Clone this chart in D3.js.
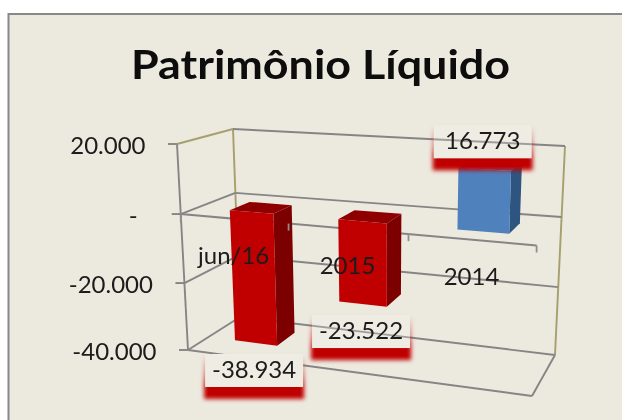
<!DOCTYPE html>
<html><head><meta charset="utf-8">
<script src="https://cdn.jsdelivr.net/npm/d3@7"></script>
<style>html,body{margin:0;padding:0;background:#fff;overflow:hidden}svg{display:block}</style>
</head><body><svg id="c" width="622" height="420"></svg>
<script>
const chartTitle = "Patrimônio Líquido";
const categories = ["jun/16", "2015", "2014"];
const seriesValues = [-38934, -23522, 16773];
const yTicks = [-40000, -20000, 0, 20000];

const BG = "#ece9df", GRID = "#858585", OLIVE = "#a5a06c", FONT = "Lato, 'Open Sans', sans-serif";
const fmt = d3.formatLocale({decimal:",",thousands:".",grouping:[3],currency:["",""]}).format(",d");
const label = v => v === 0 ? "-" : fmt(v).replace("−","-");

const svg = d3.select("#c");
const defs = svg.append("defs");
const soft = defs.append("filter").attr("id","soft").attr("x","-5%").attr("y","-5%").attr("width","110%").attr("height","110%");
soft.append("feGaussianBlur").attr("stdDeviation",0.45);
const glow = defs.append("filter").attr("id","glow").attr("x","-20%").attr("y","-30%").attr("width","140%").attr("height","160%");
glow.append("feGaussianBlur").attr("stdDeviation",2.3);
const grad = defs.append("linearGradient").attr("id","shade").attr("x1",0).attr("x2",0).attr("y1",0).attr("y2",1);
grad.append("stop").attr("offset",0).attr("stop-color","#c00000").attr("stop-opacity",0.05);
grad.append("stop").attr("offset",0.45).attr("stop-color","#c00000").attr("stop-opacity",0.55);
grad.append("stop").attr("offset",0.7).attr("stop-color","#c00000").attr("stop-opacity",1);
grad.append("stop").attr("offset",1).attr("stop-color","#c00000").attr("stop-opacity",1);

const root = svg.append("g").attr("filter","url(#soft)");
root.append("rect").attr("x",8.5).attr("y",14).attr("width",640).attr("height",430).attr("fill",BG).attr("stroke","#888").attr("stroke-width",2);
root.append("text").text(chartTitle).attr("x",320.5).attr("y",79).attr("text-anchor","middle")
  .attr("textLength",379).attr("lengthAdjust","spacingAndGlyphs")
  .attr("font-family",FONT).attr("font-weight",700).attr("font-size",41).attr("fill","#0a0a0a");

// 3D box frame: scales along the three chart directions
const vFrac = d3.scaleLinear().domain(yTicks).range([0,.325,.66,1]);
const uWarp = d3.scaleLinear().domain([0,1/3,2/3,1]).range([0,.303,.64,1]);
const frontLeftX = d3.scaleLinear().domain([0,1]).range([188,177]), frontLeftY = d3.scaleLinear().domain([0,1]).range([350,144]);
const frontRightX = d3.scaleLinear().domain([0,1]).range([532,539]), frontRightY = d3.scaleLinear().domain([0,1]).range([396,168]);
const backLeftX = d3.scaleLinear().domain([0,1]).range([240,233]), backLeftY = d3.scaleLinear().domain([0,1]).range([317,129]);
const backRightX = d3.scaleLinear().domain([0,1]).range([555,565]), backRightY = d3.scaleLinear().domain([0,1]).range([355,146]);
const catScale = d3.scaleBand().domain(categories).range([0,1]).paddingInner(.585).paddingOuter(.2925);
const catAxis = d3.scaleBand().domain(categories).range([0,1]);
const lerp = (a,b,t) => a+(b-a)*t;
function P(u,d,v){
  const f = vFrac(v);
  const fx = lerp(frontLeftX(f),frontRightX(f),u), fy = lerp(frontLeftY(f),frontRightY(f),u);
  const bx = lerp(backLeftX(f),backRightX(f),u), by = lerp(backLeftY(f),backRightY(f),u);
  return [lerp(fx,bx,d),lerp(fy,by,d)];
}
const seg = (g,a,b,c,w) => g.append("line").attr("x1",a[0]).attr("y1",a[1]).attr("x2",b[0]).attr("y2",b[1]).attr("stroke",c||GRID).attr("stroke-width",w||1.9);
const poly = (g,pts,c) => g.append("polygon").attr("points",pts.map(p=>p.join(",")).join(" ")).attr("fill",c);
const vMin = yTicks[0], vMax = yTicks[yTicks.length-1];

// walls
const wall = root.append("g");
seg(wall,P(0,1,vMin),P(0,1,vMax),OLIVE);
seg(wall,P(1,1,vMin),P(1,1,vMax),OLIVE);
seg(wall,P(0,0,vMin),P(0,0,vMax));
yTicks.forEach(t=>{
  const c = t===vMax ? OLIVE : GRID;
  seg(wall,P(0,0,t),P(0,1,t),c);
  seg(wall,P(0,1,t),P(1,1,t), GRID);
  seg(wall,P(0,0,t),[P(0,0,t)[0]-9,P(0,0,t)[1]]);
});
seg(wall,P(0,0,vMin),P(1,0,vMin));
seg(wall,P(1,0,vMin),P(1,1,vMin));
seg(wall,P(0,0,0),P(1,0,0),GRID,2);

// bars
const d0=.31, d1=.69, uShift=.004;
const bars = root.append("g");
const barU = c => [uWarp(catScale(c))+uShift, uWarp(catScale(c)+catScale.bandwidth())+uShift];
categories.forEach((c,i)=>{
  const v = seriesValues[i], [u0,u1]=barU(c);
  const hi=Math.max(v,0), lo=Math.min(v,0), neg=v<0;
  const cf=neg?"#c00000":"#4f81bd", cs=neg?"#7c0000":"#2f5480", ct=neg?"#8e0000":"#4f81bd";
  poly(bars,[P(u0,d0,hi),P(u1,d0,hi),P(u1,d1,hi),P(u0,d1,hi)],ct);
  poly(bars,[P(u1,d0,hi),P(u1,d1,hi),P(u1,d1,lo),P(u1,d0,lo)],cs);
  poly(bars,[P(u0,d0,hi),P(u1,d0,hi),P(u1,d0,lo),P(u0,d0,lo)],cf);
});
// axis ticks along the zero line
const axisG = root.append("g");
categories.forEach(c=>{
  const u = uWarp(catAxis(c)+catAxis.bandwidth());
  const p=P(u,0,0); seg(axisG,p,[p[0],p[1]+7],"#8f8f8f",1.8);
});
const pz=P(0,0,0); seg(axisG,pz,[pz[0],pz[1]+8],"#8f8f8f",1.8);

// data labels
const boxW=98, boxH=33, shadowH=12;
const labels = root.append("g");
const boxes = categories.map((c,i)=>{
  const v=seriesValues[i], [u0,u1]=barU(c), pMid=P((u0+u1)/2,d0,v), cx=pMid[0]-2;
  const top = v<0 ? pMid[1]+11 : pMid[1]-44;
  return {x:cx-boxW/2,y:top,cx,v};
});
const clip = defs.append("clipPath").attr("id","lab");
boxes.forEach(b=>clip.append("rect").attr("x",b.x).attr("y",b.y).attr("width",boxW).attr("height",boxH));
boxes.forEach(b=>{
  labels.append("rect").attr("x",b.x-1).attr("y",b.y+2).attr("width",boxW+2).attr("height",boxH+shadowH-2)
    .attr("fill","url(#shade)").attr("filter","url(#glow)");
  labels.append("rect").attr("x",b.x).attr("y",b.y).attr("width",boxW).attr("height",boxH).attr("fill","#efece4");
});
// back wall lines show through the label boxes
const thru = root.append("g").attr("clip-path","url(#lab)").attr("opacity",.75);
yTicks.forEach(t=>seg(thru,P(0,1,t),P(1,1,t)));
boxes.forEach(b=>{
  root.append("text").text(label(b.v)).attr("x",b.cx).attr("y",b.y+boxH/2+7.5).attr("text-anchor","middle")
    .attr("font-family",FONT).attr("font-size",24).attr("fill","#1a1a1a");
});

// value axis labels
yTicks.forEach(t=>{
  const p=P(0,0,t);
  root.append("text").text(label(t)).attr("x",p[0]-(t===0?43:31.5)).attr("y",p[1]+10).attr("text-anchor","end")
    .attr("font-family",FONT).attr("font-size",24).attr("fill","#1a1a1a");
});
// category labels
categories.forEach(c=>{
  const p=P(uWarp(catAxis(c)+catAxis.bandwidth()/2),0,0);
  root.append("text").text(c).attr("x",p[0]-1).attr("y",p[1]+45).attr("text-anchor","middle")
    .attr("font-family",FONT).attr("font-size",24).attr("fill","#1a1a1a");
});
</script></body></html>
